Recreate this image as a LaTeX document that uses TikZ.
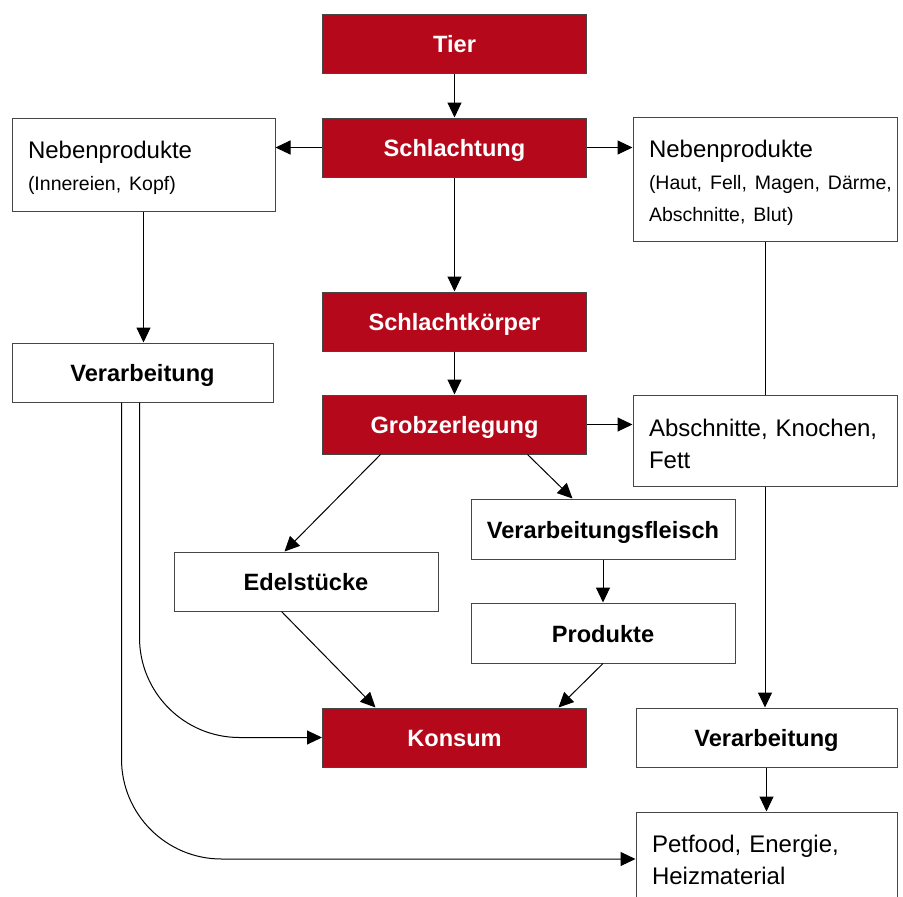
\documentclass[tikz,border=0pt]{standalone}
\usepackage{fontspec}
\setmainfont{Liberation Sans}
\usetikzlibrary{arrows.meta,calc}
\definecolor{myred}{RGB}{181,8,26}
\definecolor{edgegray}{RGB}{70,70,70}
\newcommand{\regf}{\fontsize{24}{32}\selectfont\frenchspacing}
\newcommand{\smf}{\fontsize{19.5}{32}\selectfont\frenchspacing}
\newcommand{\tstrut}[1]{\rule{0pt}{#1}}
\newcommand{\bstrut}[1]{\rule[-#1]{0pt}{#1}}
\begin{document}
\frenchspacing
\begin{tikzpicture}[x=1pt,y=-1pt,
  box/.style={draw=edgegray, line width=1pt, minimum height=59pt, minimum width=264pt, inner sep=0pt,
              text height=18pt, text depth=0pt,
              font=\bfseries\fontsize{23.6}{28}\selectfont},
  redbox/.style={box, fill=myred, text=white},
  whitebox/.style={box, fill=white, text=black},
  textbox/.style={draw=edgegray, line width=1pt, fill=white, align=left, inner xsep=16pt, inner ysep=0pt, font=\regf},
  conn/.style={line width=1pt, -{Triangle[length=15pt,width=14pt]}},
  plainline/.style={line width=1pt}]
\useasboundingbox (0,0) rectangle (903,897);
\clip (0,0) rectangle (903,897);

% red main chain
\node[redbox] (tier) at (454.5,43.5) {Tier};
\node[redbox] (schl) at (454.5,147.5) {Schlachtung};
\node[redbox] (koerper) at (454.5,321.5) {Schlachtkörper};
\node[redbox] (grob) at (454.5,424.5) {Grobzerlegung};
\node[redbox] (konsum) at (454.5,737.5) {Konsum};

% white boxes
\node[textbox, text width=231pt, minimum height=93pt] (nl) at (143.5,164.5)
  {\tstrut{40pt}Nebenprodukte\\ \smf (Innereien, Kopf)\bstrut{21pt}};
\node[whitebox, minimum width=261pt] (vl) at (142.5,372.5) {Verarbeitung};
\node[textbox, text width=232pt, minimum height=123pt] (nr) at (765,179.5)
  {\tstrut{40pt}Nebenprodukte\\ \smf \mbox{(Haut, Fell, Magen, Därme,}\\ \smf Abschnitte, Blut)\bstrut{20pt}};
\node[textbox, text width=232pt, minimum height=91pt] (ab) at (765,440.5)
  {\tstrut{41pt}Abschnitte, Knochen,\\ Fett\bstrut{17pt}};
\node[whitebox, minimum height=60pt] (vf) at (603,529) {Verarbeitungsfleisch};
\node[whitebox, minimum height=60pt] (pr) at (603,633) {Produkte};
\node[whitebox] (ed) at (306,581.5) {Edelstücke};
\node[whitebox, minimum width=261pt] (vr) at (766.5,737.5) {Verarbeitung};
\node[textbox, text width=229pt, minimum height=94pt] (pf) at (766.5,859)
  {\tstrut{40pt}Petfood, Energie,\\ Heizmaterial\bstrut{22pt}};

% connectors
\draw[conn] (tier.south) -- (schl.north);
\draw[conn] (schl.west) -- (schl.west -| nl.east);
\draw[conn] (schl.east) -- (schl.east -| nr.west);
\draw[conn] (schl.south) -- (koerper.north);
\draw[conn] (koerper.south) -- (grob.north);
\draw[conn] (grob.east) -- (grob.east -| ab.west);
\draw[conn] ($(grob.south west)+(58.5,0)$) -- ($(ed.north west)+(111,0)$);
\draw[conn] ($(grob.south west)+(205.5,0)$) -- ($(vf.north west)+(102,0)$);
\draw[conn] (vf.south) -- (pr.north);
\draw[conn] ($(ed.south west)+(108,0)$) -- ($(konsum.north west)+(53.5,0)$);
\draw[conn] (pr.south) -- ($(konsum.north west)+(236.5,0)$);
\draw[conn] (nl.south) -- (nl.south |- vl.north);
\draw[plainline] (nr.south) -- (ab.north);
\draw[conn] (ab.south) -- (ab.south |- vr.north);
\draw[conn] (vr.south) -- (vr.south |- pf.north);

% curved connectors from left Verarbeitung
\coordinate (c1) at ($(vl.south west)+(128,0)$);
\coordinate (c2) at ($(vl.south west)+(110,0)$);
\draw[conn, rounded corners=100pt] (c1) |- (konsum.west);
\draw[conn, rounded corners=100pt] (c2) |- (pf.west);
\end{tikzpicture}
\end{document}
